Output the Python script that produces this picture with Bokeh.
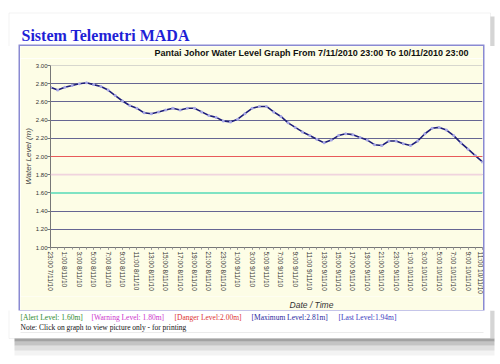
import math
from bokeh.plotting import figure
from bokeh.layouts import column
from bokeh.models import (FixedTicker, Label, BoxAnnotation, Span, Range1d,
                          NumeralTickFormatter)
from bokeh.embed import file_html
from bokeh.resources import INLINE

# ---------------- data ----------------
hours = list(range(61))
water_level = [2.76, 2.73, 2.76, 2.78, 2.80, 2.81, 2.79, 2.77, 2.73, 2.67,
               2.61, 2.56, 2.53, 2.48, 2.47, 2.49, 2.51, 2.53, 2.51, 2.53,
               2.53, 2.49, 2.45, 2.43, 2.39, 2.38, 2.41, 2.47, 2.53, 2.55,
               2.55, 2.49, 2.44, 2.37, 2.32, 2.27, 2.23, 2.19, 2.15, 2.18,
               2.23, 2.25, 2.24, 2.21, 2.18, 2.13, 2.12, 2.17, 2.17, 2.14,
               2.12, 2.17, 2.25, 2.31, 2.32, 2.29, 2.23, 2.15, 2.08, 2.01,
               1.94]
tick_hours = list(range(0, 61, 2))
tick_labels = ["23:00 7/11/10", "1:00 8/11/10", "3:00 8/11/10", "5:00 8/11/10",
               "7:00 8/11/10", "9:00 8/11/10", "11:00 8/11/10", "13:00 8/11/10",
               "15:00 8/11/10", "17:00 8/11/10", "19:00 8/11/10", "21:00 8/11/10",
               "23:00 8/11/10", "1:00 9/11/10", "3:00 9/11/10", "5:00 9/11/10",
               "7:00 9/11/10", "9:00 9/11/10", "11:00 9/11/10", "13:00 9/11/10",
               "15:00 9/11/10", "17:00 9/11/10", "19:00 9/11/10", "21:00 9/11/10",
               "23:00 9/11/10", "1:00 10/11/10", "3:00 10/11/10", "5:00 10/11/10",
               "7:00 10/11/10", "9:00 10/11/10", "11:00 10/11/10"]
y_ticks = [1.0, 1.2, 1.4, 1.6, 1.8, 2.0, 2.2, 2.4, 2.6, 2.8, 3.0]
alert_level = 1.60
warning_level = 1.80
danger_level = 2.00
maximum_level = 2.81
last_level = 1.94

YELLOW = "#fdfde6"
BOX = "#8a8ad2"


def blank(width, height, bg="white"):
    f = figure(width=width, height=height, output_backend="svg", toolbar_location=None,
               x_range=Range1d(0, width), y_range=Range1d(height, 0),
               x_axis_location=None, y_axis_location=None, min_border=0,
               frame_align=False)
    f.grid.visible = False
    f.outline_line_color = None
    f.background_fill_color = bg
    f.border_fill_color = bg
    return f


def text(f, x, y, s, size, color, font="Liberation Serif", style="normal", align="left"):
    f.add_layout(Label(x=x, y=y, text=s, text_font=font, text_font_size=size,
                       text_font_style=style, text_color=color, text_align=align,
                       text_baseline="middle"))


# ---------------- top strip (page y 0..46) ----------------
top = blank(496, 46)
top.add_layout(BoxAnnotation(left=8.5, right=490, top=12.5, bottom=80, fill_color=None,
                             line_color="#d4d4d4", line_width=1))
top.add_layout(BoxAnnotation(left=490, right=494, top=16, bottom=80, fill_color="#888888",
                             fill_alpha=0.35, line_color=None))
text(top, 21, 35, "Sistem Telemetri MADA", "16px", "#1f1fd6", style="bold")

# ---------------- chart box (page 20..483 x 46..310) ----------------
head = blank(463, 12, YELLOW)
text(head, 291, 6, "Pantai Johor Water Level Graph From 7/11/2010 23:00 To 10/11/2010 23:00",
     "9px", "#111111", font="Liberation Sans", style="bold", align="center")

p = figure(width=463, height=238, output_backend="svg", toolbar_location=None,
           x_range=Range1d(0, 60), y_range=Range1d(1, 3), frame_align=False,
           min_border_left=30, min_border_right=1, min_border_top=7, min_border_bottom=48)
p.border_fill_color = YELLOW
p.background_fill_color = YELLOW
p.outline_line_color = None

p.xaxis.ticker = FixedTicker(ticks=tick_hours, minor_ticks=hours)
p.xaxis.major_label_overrides = {h: t for h, t in zip(tick_hours, tick_labels)}
p.xaxis.major_label_orientation = -math.pi / 2
p.xaxis.major_label_text_font_size = "6.5px"
p.xaxis.major_label_text_font = "Liberation Sans"
p.xaxis.major_label_text_color = "#333333"
p.xaxis.major_label_standoff = 2
p.xaxis.major_tick_out = 2
p.xaxis.major_tick_in = 0
p.xaxis.minor_tick_out = 2
p.xaxis.minor_tick_in = 0
p.xaxis.axis_line_color = "#777777"
p.xaxis.major_tick_line_color = "#777777"
p.xaxis.minor_tick_line_color = "#999999"

p.yaxis.ticker = FixedTicker(ticks=y_ticks)
p.yaxis.formatter = NumeralTickFormatter(format="0.00")
p.yaxis.major_label_text_font_size = "6px"
p.yaxis.major_label_text_font = "Liberation Sans"
p.yaxis.major_label_text_color = "#333333"
p.yaxis.major_label_standoff = 0
p.yaxis.major_tick_out = 3
p.yaxis.major_tick_in = 0
p.yaxis.minor_tick_line_color = None
p.yaxis.axis_line_color = "#777777"
p.yaxis.major_tick_line_color = "#777777"
p.yaxis.axis_label = "Water Level (m)"
p.yaxis.axis_label_text_font = "Liberation Sans"
p.yaxis.axis_label_text_font_style = "italic"
p.yaxis.axis_label_text_font_size = "8px"
p.yaxis.axis_label_text_color = "#444444"
p.yaxis.axis_label_standoff = 0

p.xgrid.visible = False
p.ygrid.ticker = FixedTicker(ticks=y_ticks)
p.ygrid.grid_line_color = "#666692"
p.ygrid.grid_line_width = 1.2

p.add_layout(Span(location=3.0, dimension="width", line_color="#b0b0b0", line_width=1.2))
p.add_layout(Span(location=alert_level, dimension="width", line_color="#7fe3c3", line_width=2))
p.add_layout(Span(location=warning_level, dimension="width", line_color="#f0d4de", line_width=1.8))
p.add_layout(Span(location=danger_level, dimension="width", line_color="#e85a5a", line_width=1.2))

p.line(hours, water_level, line_color="#1e1e7a", line_width=1.6)
p.scatter(hours, water_level, size=3, fill_color="#a8a8e8", line_color=None)

foot = blank(463, 14, YELLOW)
text(foot, 291, 8, "Date / Time", "8.5px", "#333333", font="Liberation Sans", style="italic",
     align="center")

box = column(head, p, foot, spacing=0)
box.margin = (0, 0, 0, 20)
box.styles = {"box-shadow": "0 0 0 1.5px " + BOX}

# ---------------- bottom strip (page y 310..360) ----------------
bot = blank(496, 50)
bot.add_layout(BoxAnnotation(left=8.5, right=490, top=-10, bottom=28, fill_color=None,
                             line_color="#d4d4d4", line_width=1))
bot.add_layout(BoxAnnotation(left=20, right=483, top=21.5, bottom=22.5, fill_color="#cccccc",
                             line_color=None))
for t, b, a in [(28, 31, 0.55), (31, 35, 0.35), (35, 40, 0.18), (40, 45, 0.07)]:
    bot.add_layout(BoxAnnotation(left=14, right=494, top=t, bottom=b, fill_color="#555555",
                                 fill_alpha=a, line_color=None))
bot.add_layout(BoxAnnotation(left=490, right=494, top=0, bottom=28, fill_color="#888888",
                             fill_alpha=0.35, line_color=None))
text(bot, 20, 7, "[Alert Level: %.2fm]" % alert_level, "7.5px", "#2e8b2e")
text(bot, 91, 7, "[Warning Level: %.2fm]" % warning_level, "7.5px", "#cc33cc")
text(bot, 174, 7, "[Danger Level:%.2fm]" % danger_level, "7.5px", "#dd3333")
text(bot, 251, 7, "[Maximum Level:%.2fm]" % maximum_level, "7.5px", "#2a2aa0")
text(bot, 338, 7, "[Last Level:%.2fm]" % last_level, "7.5px", "#3a3ac0")
text(bot, 20, 17, "Note: Click on graph to view picture only - for printing", "7.5px", "#111111")

layout = column(top, box, bot, spacing=0)
open("out.html", "w").write(file_html(layout, INLINE))
